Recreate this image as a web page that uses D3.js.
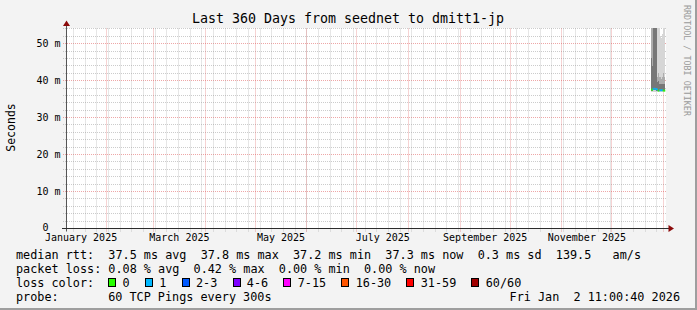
<!DOCTYPE html>
<html><head><meta charset="utf-8">
<script src="https://cdn.jsdelivr.net/npm/d3@7"></script>
<style>
html,body{margin:0;padding:0;background:#f3f3f3;}
svg{display:block;}
text{font-family:"DejaVu Sans Mono",monospace;white-space:pre;}
</style></head><body>
<svg id="chart" width="697" height="310"></svg>
<script>
// ---------- data ----------
const title = "Last 360 Days from seednet to dmitt1-jp";
const yAxisLabel = "Seconds";
const yMaxMs = 54.1;
const yMajorTicks = [0, 10, 20, 30, 40, 50];
const yTickLabels = ["0  ", "10 m", "20 m", "30 m", "40 m", "50 m"];
const monthLabels = ["January 2025", "March 2025", "May 2025", "July 2025", "September 2025", "November 2025"];
const startTime = "2025-01-07T11:00:40Z";
const endTime = "2026-01-02T11:00:40Z";

const stepTimes = [
  "2025-12-24T12:00Z","2025-12-25T00:00Z","2025-12-25T12:00Z","2025-12-26T00:00Z",
  "2025-12-26T12:00Z","2025-12-27T00:00Z","2025-12-27T12:00Z","2025-12-28T00:00Z",
  "2025-12-28T12:00Z","2025-12-29T00:00Z","2025-12-29T12:00Z","2025-12-30T00:00Z",
  "2025-12-30T12:00Z","2025-12-31T00:00Z","2025-12-31T12:00Z","2026-01-01T00:00Z",
  "2026-01-01T12:00Z"
];
const medianMs = [37.6,37.5,37.7,37.8,37.8,37.7,37.7,37.6,37.3,37.3,37.4,37.4,37.4,37.4,37.3,37.3,37.3];
const lostPings = [0,0,1,1,1,1,1,1,0,0,1,1,1,1,0,0,0];
const minMs = [36.9,36.9,36.9,36.9,36.9,36.9,36.9,36.8,36.8,36.8,36.8,36.8,36.8,36.8,36.8,36.9,36.8];
const p25Ms = [37.3,37.3,37.4,37.4,37.4,37.4,37.3,37.2,37.2,37.2,37.2,37.2,37.2,37.2,37.2,37.2,37.2];
const p75Ms = [46.0,44.0,60.0,62.0,58.0,60.0,57.0,39.5,39.8,39.5,39.0,39.2,39.0,39.0,39.2,39.0,39.0];
const p90Ms = [60.0,60.0,62.0,63.0,62.0,62.0,61.0,41.0,42.0,43.0,41.0,41.0,40.5,41.0,42.0,41.0,41.0];
const maxMs = [62.0,62.0,64.0,64.0,64.0,64.0,63.0,60.0,60.0,58.0,57.0,52.0,51.5,52.5,60.0,59.0,60.0];

const legendRtt = "median rtt:  37.5 ms avg  37.8 ms max  37.2 ms min  37.3 ms now  0.3 ms sd  139.5   am/s";
const legendLoss = "packet loss: 0.08 % avg  0.42 % max  0.00 % min  0.00 % now";
const legendLossTitle = "loss color:";
const lossCategories = ["0","1","2-3","4-6","7-15","16-30","31-59","60/60"];
const lossUpper = [0,1,3,6,15,30,59,60];
const lossColors = ["#26ff00","#00b8ff","#0059ff","#7e00ff","#ff00ff","#ff5500","#ff0000","#a10000"];
const probeTitle = "probe:";
const probeText = "60 TCP Pings every 300s";
const dateText = "Fri Jan  2 11:00:40 2026";
const watermark = "RRDTOOL / TOBI OETIKER";

// ---------- drawing ----------
const svg = d3.select("#chart");
const W = 697, H = 310;
const L = 66, R = 666, T = 28.5, B = 228.5;

const x = d3.scaleUtc().domain([new Date(startTime), new Date(endTime)]).range([L, R]);
const y = d3.scaleLinear().domain([0, yMaxMs]).range([B, T]);
const crisp = v => Math.floor(v) + 0.5;

svg.append("rect").attr("width", W).attr("height", H).attr("fill", "#f3f3f3");
svg.append("rect").attr("x", W - 2).attr("y", 0).attr("width", 2).attr("height", H).attr("fill", "#9e9e9e");
svg.append("rect").attr("x", 0).attr("y", H - 2).attr("width", W).attr("height", 2).attr("fill", "#9e9e9e");
svg.append("rect").attr("x", L).attr("y", T - 0.5).attr("width", R - L).attr("height", B - T + 0.5).attr("fill", "#ffffff");

const minorCol = "rgba(143,143,143,0.45)";
const majorCol = "rgba(222,80,80,0.5)";
const grid = svg.append("g");

// horizontal grid
const yMinor = d3.range(2, yMaxMs, 2).filter(v => v % 10 !== 0);
grid.selectAll("line.hmin").data(yMinor).join("line")
  .attr("x1", L - 3).attr("x2", R + 1)
  .attr("y1", d => crisp(y(d))).attr("y2", d => crisp(y(d)))
  .attr("stroke", minorCol).attr("stroke-dasharray", "1,1");
grid.selectAll("line.hmaj").data(yMajorTicks.filter(v => v > 0)).join("line")
  .attr("x1", L - 3).attr("x2", R + 1)
  .attr("y1", d => crisp(y(d))).attr("y2", d => crisp(y(d)))
  .attr("stroke", majorCol).attr("stroke-dasharray", "1,1");

// vertical grid
const [t0, t1] = x.domain();
const weeks = d3.utcSunday.range(t0, t1);
const months = d3.utcMonth.range(t0, t1);
grid.selectAll("line.vmin").data(weeks).join("line")
  .attr("x1", d => crisp(x(d))).attr("x2", d => crisp(x(d)))
  .attr("y1", T).attr("y2", B + 3)
  .attr("stroke", minorCol).attr("stroke-dasharray", "1,1");
grid.selectAll("line.vmaj").data(months).join("line")
  .attr("x1", d => crisp(x(d))).attr("x2", d => crisp(x(d)))
  .attr("y1", T).attr("y2", B + 3)
  .attr("stroke", majorCol).attr("stroke-dasharray", "1,1");

// smoke
svg.append("clipPath").attr("id", "plotclip").append("rect")
  .attr("x", L).attr("y", T - 0.5).attr("width", R - L).attr("height", B - T + 0.5);
const steps = stepTimes.map((s, i) => {
  const a = new Date(s);
  return {a, b: new Date(+a + 12 * 3600e3), i};
});
const dataG = svg.append("g").attr("clip-path", "url(#plotclip)");
const bands = [
  {lo: minMs, hi: maxMs, col: "#d6d6d6"},
  {lo: p25Ms, hi: p90Ms, col: "#acacac"},
  {lo: p25Ms, hi: p75Ms, col: "#777777"}
];
bands.forEach(bd => {
  dataG.append("g").selectAll("rect").data(steps).join("rect")
    .attr("x", d => x(d.a)).attr("width", d => x(d.b) - x(d.a) + 0.05)
    .attr("y", d => y(bd.hi[d.i])).attr("height", d => y(bd.lo[d.i]) - y(bd.hi[d.i]))
    .attr("fill", bd.col).attr("shape-rendering", "crispEdges");
});
const lossIdx = n => lossUpper.findIndex(u => n <= u);
dataG.append("g").selectAll("rect").data(steps).join("rect")
  .attr("x", d => x(d.a)).attr("width", d => x(d.b) - x(d.a) + 0.05)
  .attr("y", d => y(medianMs[d.i]) - 1).attr("height", 2)
  .attr("fill", d => lossColors[lossIdx(lostPings[d.i])]);

// axes
const axisCol = "#2c2c2c";
svg.append("line").attr("x1", L + 0.5).attr("x2", L + 0.5).attr("y1", B + 3).attr("y2", T - 4)
  .attr("stroke", "#555");
svg.append("line").attr("x1", L - 4).attr("x2", R + 5).attr("y1", B).attr("y2", B)
  .attr("stroke", axisCol);
svg.append("path").attr("d", `M${L + 0.5},${T - 8}L${L - 3},${T - 2.5}L${L + 4},${T - 2.5}Z`).attr("fill", "#8b0a0a");
svg.append("path").attr("d", `M${R + 8},${B}L${R + 2.5},${B - 3.5}L${R + 2.5},${B + 3.5}Z`).attr("fill", "#8b0a0a");

// y tick labels
svg.append("g").selectAll("text").data(yMajorTicks).join("text")
  .attr("x", 60.5).attr("y", d => y(d) + (d === 0 ? 2.5 : 3.5)).attr("text-anchor", "end")
  .attr("font-size", "10px").attr("fill", "#000").text((d, i) => yTickLabels[i]);

// x labels: centered within every second month
const labelMonths = d3.utcMonth.range(d3.utcMonth.floor(t0), t1).filter(m => m.getUTCMonth() % 2 === 0);
svg.append("g").selectAll("text").data(labelMonths).join("text")
  .attr("x", d => (x(d) + x(d3.utcMonth.offset(d, 1))) / 2).attr("y", 240.5)
  .attr("text-anchor", "middle").attr("font-size", "10px").attr("fill", "#000")
  .text((d, i) => monthLabels[i]);

// title
svg.append("text").attr("x", 348).attr("y", 23).attr("text-anchor", "middle")
  .attr("font-size", "13.3px").attr("fill", "#000").text(title);

// y axis label
svg.append("text").attr("transform", "translate(14.5,127.5) rotate(-90)")
  .attr("text-anchor", "middle").attr("font-size", "11.5px").attr("fill", "#000").text(yAxisLabel);

// watermark
svg.append("text").attr("transform", "translate(683.5,5) rotate(90)")
  .attr("font-size", "8.4px").attr("fill", "#9a9a9a").text(watermark);

// legend
const lf = "11.8px", cw = 7.09;
svg.append("text").attr("x", 16).attr("y", 259).attr("font-size", lf).text(legendRtt);
svg.append("text").attr("x", 16).attr("y", 273).attr("font-size", lf).text(legendLoss);
svg.append("text").attr("x", 16).attr("y", 287).attr("font-size", lf).text(legendLossTitle);
let bx = 108.3;
const items = lossCategories.map((c, i) => {
  const it = {c, col: lossColors[i], bx};
  bx = bx + 14.3 + c.length * cw + 15.3;
  return it;
});
const lg = svg.append("g");
lg.selectAll("rect").data(items).join("rect")
  .attr("x", d => Math.round(d.bx) + 0.5).attr("y", 278.5).attr("width", 7).attr("height", 8)
  .attr("fill", d => d.col).attr("stroke", "#000");
lg.selectAll("text").data(items).join("text")
  .attr("x", d => d.bx + 14.3).attr("y", 287).attr("font-size", lf).text(d => d.c);
svg.append("text").attr("x", 16).attr("y", 301).attr("font-size", lf).text(probeTitle);
svg.append("text").attr("x", 16 + 13 * cw).attr("y", 301).attr("font-size", lf).text(probeText);
svg.append("text").attr("x", 680).attr("y", 301).attr("text-anchor", "end").attr("font-size", lf).text(dateText);
</script>
</body></html>
